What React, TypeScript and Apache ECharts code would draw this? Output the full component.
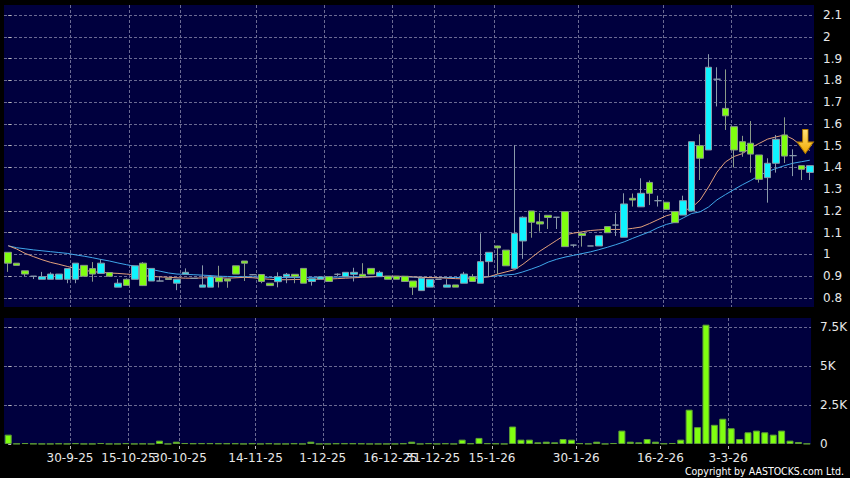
import React, { useEffect, useRef } from "react";
import * as echarts from "echarts";

// ---- data ----
const opens = [
  1.01, 0.96, 0.925, 0.9, 0.886, 0.886, 0.886, 0.886, 0.886, 0.95,
  0.935, 0.913, 0.917, 0.85, 0.886, 0.886, 0.96, 0.878, 0.878, 0.89,
  0.868, 0.91, 0.89, 0.85, 0.85, 0.895, 0.887, 0.948, 0.97, 0.907,
  0.908, 0.868, 0.875, 0.898, 0.909, 0.936, 0.876, 0.887, 0.898, 0.909,
  0.898, 0.909, 0.909, 0.936, 0.898, 0.9, 0.9, 0.9, 0.878, 0.834,
  0.85, 0.886, 0.85, 0.86, 0.868, 0.898, 0.868, 0.967, 1.039, 1.02,
  0.936, 1.062, 1.2, 1.15, 1.18, 1.171, 1.197, 1.043, 1.097, 1.039,
  1.039, 1.128, 1.135, 1.079, 1.258, 1.219, 1.331, 1.247, 1.24, 1.197,
  1.181, 1.2, 1.5, 1.48, 1.805, 1.671, 1.587, 1.518, 1.511, 1.457,
  1.353, 1.419, 1.549, 1.454, 1.408, 1.377,
];
const closes = [
  0.96, 0.95, 0.91, 0.9, 0.898, 0.91, 0.91, 0.935, 0.96, 0.9,
  0.91, 0.96, 0.9, 0.868, 0.858, 0.948, 0.857, 0.936, 0.878, 0.885,
  0.886, 0.918, 0.89, 0.86, 0.898, 0.875, 0.878, 0.91, 0.96, 0.907,
  0.876, 0.857, 0.898, 0.909, 0.898, 0.868, 0.888, 0.897, 0.876, 0.909,
  0.918, 0.918, 0.898, 0.91, 0.918, 0.886, 0.886, 0.876, 0.85, 0.891,
  0.886, 0.886, 0.86, 0.85, 0.91, 0.876, 0.967, 1.01, 1.03, 0.948,
  1.097, 1.171, 1.148, 1.14, 1.17, 1.171, 1.036, 1.043, 1.087, 1.039,
  1.086, 1.1, 1.135, 1.232, 1.25, 1.281, 1.281, 1.247, 1.207, 1.146,
  1.247, 1.518, 1.442, 1.86, 1.805, 1.637, 1.48, 1.472, 1.461, 1.345,
  1.419, 1.529, 1.452, 1.454, 1.391, 1.408,
];
const lows = [
  0.92, 0.95, 0.9, 0.887, 0.886, 0.886, 0.886, 0.868, 0.868, 0.9,
  0.875, 0.913, 0.9, 0.85, 0.858, 0.886, 0.855, 0.878, 0.878, 0.885,
  0.836, 0.909, 0.89, 0.85, 0.85, 0.848, 0.847, 0.91, 0.878, 0.905,
  0.868, 0.857, 0.849, 0.868, 0.868, 0.868, 0.857, 0.887, 0.876, 0.9,
  0.898, 0.876, 0.898, 0.91, 0.898, 0.886, 0.886, 0.876, 0.814, 0.834,
  0.85, 0.886, 0.85, 0.85, 0.868, 0.876, 0.868, 0.9, 0.91, 0.948,
  0.936, 0.98, 1.077, 1.105, 1.117, 1.117, 1.036, 1.033, 1.036, 1.039,
  1.039, 1.1, 1.085, 1.079, 1.22, 1.219, 1.227, 1.22, 1.207, 1.146,
  1.181, 1.2, 1.342, 1.48, 1.68, 1.572, 1.4, 1.449, 1.376, 1.33,
  1.238, 1.376, 1.42, 1.36, 1.342, 1.342,
];
const highs = [
  1.01, 0.96, 0.925, 0.9, 0.92, 0.918, 0.91, 0.935, 0.96, 0.95,
  0.965, 0.978, 0.917, 0.887, 0.89, 0.948, 0.965, 0.936, 0.9, 0.89,
  0.886, 0.936, 0.89, 0.95, 0.905, 0.948, 0.887, 0.948, 0.97, 0.91,
  0.908, 0.868, 0.918, 0.915, 0.909, 0.936, 0.888, 0.897, 0.898, 0.913,
  0.918, 0.939, 0.96, 0.936, 0.925, 0.9, 0.9, 0.9, 0.878, 0.891,
  0.886, 0.886, 0.886, 0.86, 0.92, 0.91, 1.097, 1.01, 1.04, 1.02,
  1.503, 1.175, 1.2, 1.19, 1.18, 1.171, 1.197, 1.045, 1.097, 1.039,
  1.086, 1.128, 1.19, 1.281, 1.28, 1.35, 1.34, 1.27, 1.24, 1.197,
  1.27, 1.518, 1.552, 1.92, 1.86, 1.85, 1.587, 1.545, 1.613, 1.457,
  1.442, 1.549, 1.63, 1.483, 1.408, 1.408,
];
const volumes = [
  600, 20, 60, 20, 10, 10, 30, 10, 50, 10,
  10, 60, 10, 10, 50, 10, 20, 10, 215, 10,
  150, 60, 40, 50, 50, 40, 40, 40, 10, 40,
  10, 40, 10, 10, 40, 10, 150, 10, 10, 40,
  40, 40, 30, 10, 10, 10, 10, 40, 150, 10,
  50, 10, 40, 10, 280, 40, 390, 50, 30, 10,
  1120, 280, 280, 110, 150, 110, 320, 280, 50, 20,
  150, 10, 60, 860, 150, 110, 320, 150, 30, 65,
  280, 2200, 1080, 7650, 1230, 1620, 1010, 320, 750, 860,
  750, 600, 860, 215, 130, 20,
];
const maShort = [
  1.04, 1.025, 1.005, 0.99, 0.976, 0.964, 0.955, 0.945, 0.935, 0.928,
  0.921, 0.918, 0.915, 0.913, 0.91, 0.907, 0.903, 0.899, 0.897, 0.895,
  0.893, 0.891, 0.891, 0.892, 0.894, 0.893, 0.891, 0.893, 0.895, 0.893,
  0.889, 0.886, 0.884, 0.884, 0.885, 0.886, 0.886, 0.887, 0.887, 0.889,
  0.891, 0.893, 0.895, 0.897, 0.899, 0.9, 0.9, 0.899, 0.897, 0.895,
  0.894, 0.893, 0.891, 0.889, 0.888, 0.889, 0.893, 0.898, 0.91, 0.92,
  0.93, 0.955, 0.985, 1.015, 1.04, 1.065, 1.09, 1.098, 1.104, 1.11,
  1.113, 1.115, 1.115, 1.115, 1.12, 1.126, 1.142, 1.16, 1.178, 1.188,
  1.2, 1.215, 1.25, 1.31, 1.378, 1.425, 1.45, 1.463, 1.49, 1.51,
  1.53, 1.54, 1.549, 1.53, 1.5, 1.478,
];
const maLong = [
  1.04, 1.031, 1.026, 1.021, 1.017, 1.013, 1.009, 1.005, 0.998, 0.992,
  0.985, 0.977, 0.97, 0.961, 0.953, 0.946, 0.939, 0.931, 0.923, 0.915,
  0.91, 0.909, 0.907, 0.905, 0.903, 0.9, 0.899, 0.898, 0.898, 0.897,
  0.896, 0.895, 0.894, 0.894, 0.894, 0.895, 0.895, 0.895, 0.896, 0.896,
  0.897, 0.897, 0.898, 0.898, 0.899, 0.899, 0.898, 0.897, 0.896, 0.895,
  0.894, 0.894, 0.894, 0.894, 0.895, 0.896, 0.897, 0.898, 0.902, 0.906,
  0.909, 0.92, 0.933, 0.947, 0.965, 0.978, 0.988, 0.996, 1.004, 1.012,
  1.022, 1.033, 1.045, 1.058, 1.074, 1.089, 1.104, 1.123, 1.138, 1.148,
  1.168, 1.188, 1.196, 1.218, 1.251, 1.275, 1.298, 1.32, 1.34, 1.363,
  1.38, 1.395, 1.408, 1.419, 1.426, 1.433,
];
const sessions = opens.map((_, i) => String(i + 1));
const dateLabels = [
  "30-9-25", "15-10-25", "30-10-25", "14-11-25", "1-12-25", "16-12-25",
  "31-12-25", "15-1-26", "30-1-26", "16-2-26", "3-3-26",
];
const dateTickAt = [7.35, 14.31, 20.38, 29.42, 37.42, 45.47, 50.51, 57.55, 67.57, 77.58, 85.64];
const priceTicks = [0.8, 0.9, 1, 1.1, 1.2, 1.3, 1.4, 1.5, 1.6, 1.7, 1.8, 1.9, 2, 2.1];
const volumeTicks = [0, 2500, 5000, 7500];
const arrowAt = { session: "95", price: 1.519 };

const FONT = "DejaVu Sans";
const NAVY = "#00003e";
const GRIDLINE = { color: "#6a6a92", type: [3, 2] as any, width: 1 };

export default function App() {
  const ref = useRef<HTMLDivElement>(null);
  useEffect(() => {
    if (!ref.current) return;
    const chart = echarts.init(ref.current, undefined, { renderer: "svg" });
    const candles = opens.map((o, i) => [o, closes[i], lows[i], highs[i]]);
    const n = sessions.length;
    const dateFmt = (v: number) => {
      const k = dateTickAt.findIndex((t) => Math.abs(t - v) < 1e-6);
      return k >= 0 ? dateLabels[k] : "";
    };
    chart.setOption({
      animation: false,
      backgroundColor: "#000000",
      textStyle: { fontFamily: FONT },
      grid: [
        { left: 4, right: 36, top: 5, height: 302, show: true, backgroundColor: NAVY, borderWidth: 0 },
        { left: 4, right: 36, top: 318, height: 126, show: true, backgroundColor: NAVY, borderWidth: 0 },
      ],
      xAxis: [
        {
          type: "category", gridIndex: 0, data: sessions, boundaryGap: true,
          axisLine: { show: false }, axisTick: { show: false }, axisLabel: { show: false }, splitLine: { show: false },
        },
        {
          type: "category", gridIndex: 1, data: sessions, boundaryGap: true,
          axisLine: { show: false }, axisTick: { show: false }, axisLabel: { show: false }, splitLine: { show: false },
        },
        {
          type: "value", gridIndex: 0, min: -0.5, max: n - 0.5,
          axisLine: { show: false },
          axisTick: { show: false, customValues: dateTickAt },
          axisLabel: { show: false, customValues: dateTickAt },
          splitLine: { show: true, lineStyle: GRIDLINE },
        },
        {
          type: "value", gridIndex: 1, min: -0.5, max: n - 0.5, position: "bottom", offset: 2,
          axisLine: { show: false },
          axisTick: { show: true, customValues: dateTickAt, length: 3, lineStyle: { color: "#bbbbbb" } },
          axisLabel: {
            show: true, customValues: dateTickAt, formatter: dateFmt, margin: 6,
            color: "#e8e8e8", fontSize: 12, fontFamily: FONT,
          },
          splitLine: { show: true, lineStyle: GRIDLINE },
        },
      ],
      yAxis: [
        {
          type: "value", gridIndex: 0, position: "right", min: 0.7587, max: 2.146, offset: 3,
          axisLine: { show: false },
          axisTick: { show: true, customValues: priceTicks, length: 3, lineStyle: { color: "#bbbbbb" } },
          axisLabel: {
            customValues: priceTicks, margin: 6, color: "#e8e8e8", fontSize: 12, fontFamily: FONT,
            formatter: (v: number) => String(Math.round(v * 10) / 10),
          },
          splitLine: { show: true, lineStyle: GRIDLINE },
        },
        {
          type: "value", gridIndex: 1, position: "right", min: 0, max: 8077, offset: 3,
          axisLine: { show: false },
          axisTick: { show: true, customValues: volumeTicks, length: 3, lineStyle: { color: "#bbbbbb" } },
          axisLabel: {
            customValues: volumeTicks, margin: 6, color: "#e8e8e8", fontSize: 12, fontFamily: FONT,
            formatter: (v: number) => (v === 0 ? "0" : v / 1000 + "K"),
          },
          splitLine: { show: true, showMinLine: false, lineStyle: GRIDLINE },
        },
      ],
      series: [
        {
          type: "line", xAxisIndex: 0, yAxisIndex: 0, data: maLong, symbol: "none", z: 1,
          lineStyle: { color: "#3fa6ea", width: 1 },
        },
        {
          type: "line", xAxisIndex: 0, yAxisIndex: 0, data: maShort, symbol: "none", z: 1,
          lineStyle: { color: "#e2a07c", width: 1 },
        },
        {
          type: "candlestick", xAxisIndex: 0, yAxisIndex: 0, data: candles, barWidth: 7, z: 3,
          itemStyle: {
            color: "#10f4ff", color0: "#80ff10",
            borderColor: "#8a9aaa", borderColor0: "#8a9a88", borderColorDoji: "#8a9aaa", borderWidth: 1,
          },
          markPoint: {
            silent: true,
            label: { show: false },
            data: [
              {
                coord: [arrowAt.session, arrowAt.price],
                symbol: "path://M5,0 L10,0 L10,12 L15,12 L7.5,23 L0,12 L5,12 Z",
                symbolSize: [16, 24],
                symbolOffset: [4, 0],
                itemStyle: {
                  color: new echarts.graphic.LinearGradient(0, 0, 0, 1, [
                    { offset: 0, color: "#ffe27a" },
                    { offset: 1, color: "#f2a900" },
                  ]),
                  borderColor: "#b88000",
                  borderWidth: 1,
                },
              },
            ],
          },
        },
        {
          type: "bar", xAxisIndex: 1, yAxisIndex: 1, data: volumes, barWidth: 7,
          itemStyle: { color: "#80ff10", borderColor: "#5e9e36", borderWidth: 1 },
        },
      ],
      graphic: [
        {
          type: "text", right: 6, top: 465,
          style: {
            text: "Copyright by AASTOCKS.com Ltd.", fill: "#ffffff",
            font: '10.5px "DejaVu Sans Condensed", "DejaVu Sans"',
          },
        },
      ],
    });
    return () => chart.dispose();
  }, []);
  return (
    <div
      ref={ref}
      style={{ position: "fixed", left: 0, top: 0, width: 850, height: 478, background: "#000" }}
    />
  );
}
